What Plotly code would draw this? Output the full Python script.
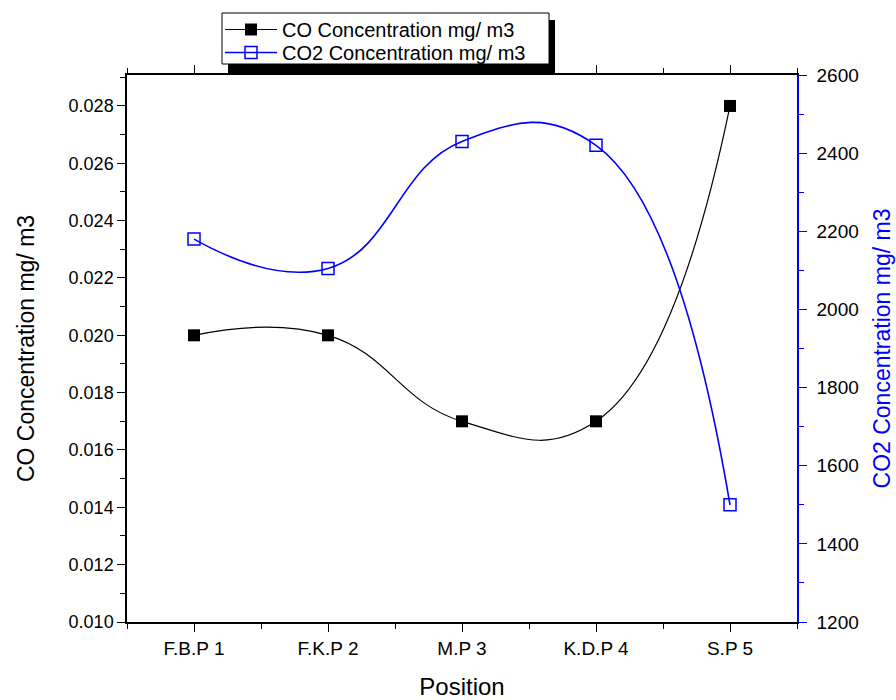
import plotly.graph_objects as go

categories = ["F.B.P 1", "F.K.P 2", "M.P 3", "K.D.P 4", "S.P 5"]
co_values = [0.020, 0.020, 0.017, 0.017, 0.028]
co2_values = [2180, 2105, 2430, 2420, 1500]

positions = list(range(1, len(categories) + 1))
FONT = "Liberation Sans, Arial, sans-serif"

L, R, T, B = 127, 797, 75, 622
PW, PH = R - L, B - T


def px_x(x):
    return (x - L) / PW


def px_y(y):
    return (B - y) / PH


fig = go.Figure()
fig.add_trace(go.Scatter(
    x=positions, y=co_values, name="CO Concentration mg/ m3", legend="legend",
    mode="lines+markers", line=dict(color="black", width=1.2, shape="spline", smoothing=1.3),
    marker=dict(symbol="square", size=12, color="black"),
))
fig.add_trace(go.Scatter(
    x=positions, y=co2_values, name="CO2 Concentration mg/ m3", yaxis="y2", legend="legend2",
    mode="lines+markers", line=dict(color="#0000ff", width=1.6, shape="spline", smoothing=1.3),
    marker=dict(symbol="square-open", size=12, color="#0000ff", line=dict(width=1.5)),
))

# legend box with drop shadow
fig.add_shape(type="rect", xref="paper", yref="paper",
              x0=px_x(228), x1=px_x(555), y0=px_y(74), y1=px_y(20),
              fillcolor="black", line=dict(width=0), layer="above")
fig.add_shape(type="rect", xref="paper", yref="paper",
              x0=px_x(222), x1=px_x(549), y0=px_y(64), y1=px_y(13),
              fillcolor="white", line=dict(color="black", width=1), layer="above")

leg_common = dict(xanchor="left", yanchor="top", bgcolor="rgba(0,0,0,0)", borderwidth=0,
                  font=dict(size=20, family=FONT), itemwidth=52)

fig.update_layout(
    width=896, height=700,
    margin=dict(l=L, r=896 - R, t=T, b=700 - B, autoexpand=False),
    paper_bgcolor="white", plot_bgcolor="white",
    font=dict(family=FONT, color="black", size=19),
    showlegend=True,
    legend=dict(x=px_x(220), y=px_y(10), **leg_common),
    legend2=dict(x=px_x(220), y=px_y(33), **leg_common),
    xaxis=dict(
        range=[0.5, 5.5], tickmode="array", tickvals=positions, ticktext=categories,
        showgrid=False, zeroline=False, showline=True, linecolor="black", linewidth=1.5,
        mirror="ticks", ticks="outside", ticklen=8, tickwidth=1.3, tickcolor="black",
        minor=dict(tickmode="array", tickvals=[0.5, 1.5, 2.5, 3.5, 4.5, 5.5], ticks="outside",
                   ticklen=5, tickwidth=1.3, tickcolor="black", showgrid=False),
        title=dict(text="Position", font=dict(size=24), standoff=22),
        tickfont=dict(size=19), automargin=False,
    ),
    yaxis=dict(
        range=[0.010, 0.02908], tickmode="linear", tick0=0.010, dtick=0.002, tickformat=".3f",
        showgrid=False, zeroline=False, showline=True, linecolor="black", linewidth=1.5,
        ticks="outside", ticklen=8, tickwidth=1.3, tickcolor="black",
        minor=dict(dtick=0.001, tick0=0.010, ticks="outside", ticklen=5, tickwidth=1.3,
                   tickcolor="black", showgrid=False),
        title=dict(text="CO Concentration mg/ m3", font=dict(size=23), standoff=28),
        tickfont=dict(size=18), automargin=False,
    ),
    yaxis2=dict(
        overlaying="y", side="right", anchor="x",
        range=[1200, 2600], tickmode="linear", tick0=1200, dtick=200,
        showgrid=False, zeroline=False, showline=True, linecolor="#0000ff", linewidth=1.5,
        ticks="outside", ticklen=8, tickwidth=1.3, tickcolor="#0000ff",
        minor=dict(dtick=100, tick0=1200, ticks="outside", ticklen=5, tickwidth=1.3,
                   tickcolor="#0000ff", showgrid=False),
        title=dict(text="CO2 Concentration mg/ m3", font=dict(size=23, color="#0000ff"), standoff=16),
        tickfont=dict(size=19, color="black"), ticklabelstandoff=6, automargin=False,
    ),
)

fig.write_html("out.html", config={"displayModeBar": False},
               post_script="document.body.style.margin='0';")
